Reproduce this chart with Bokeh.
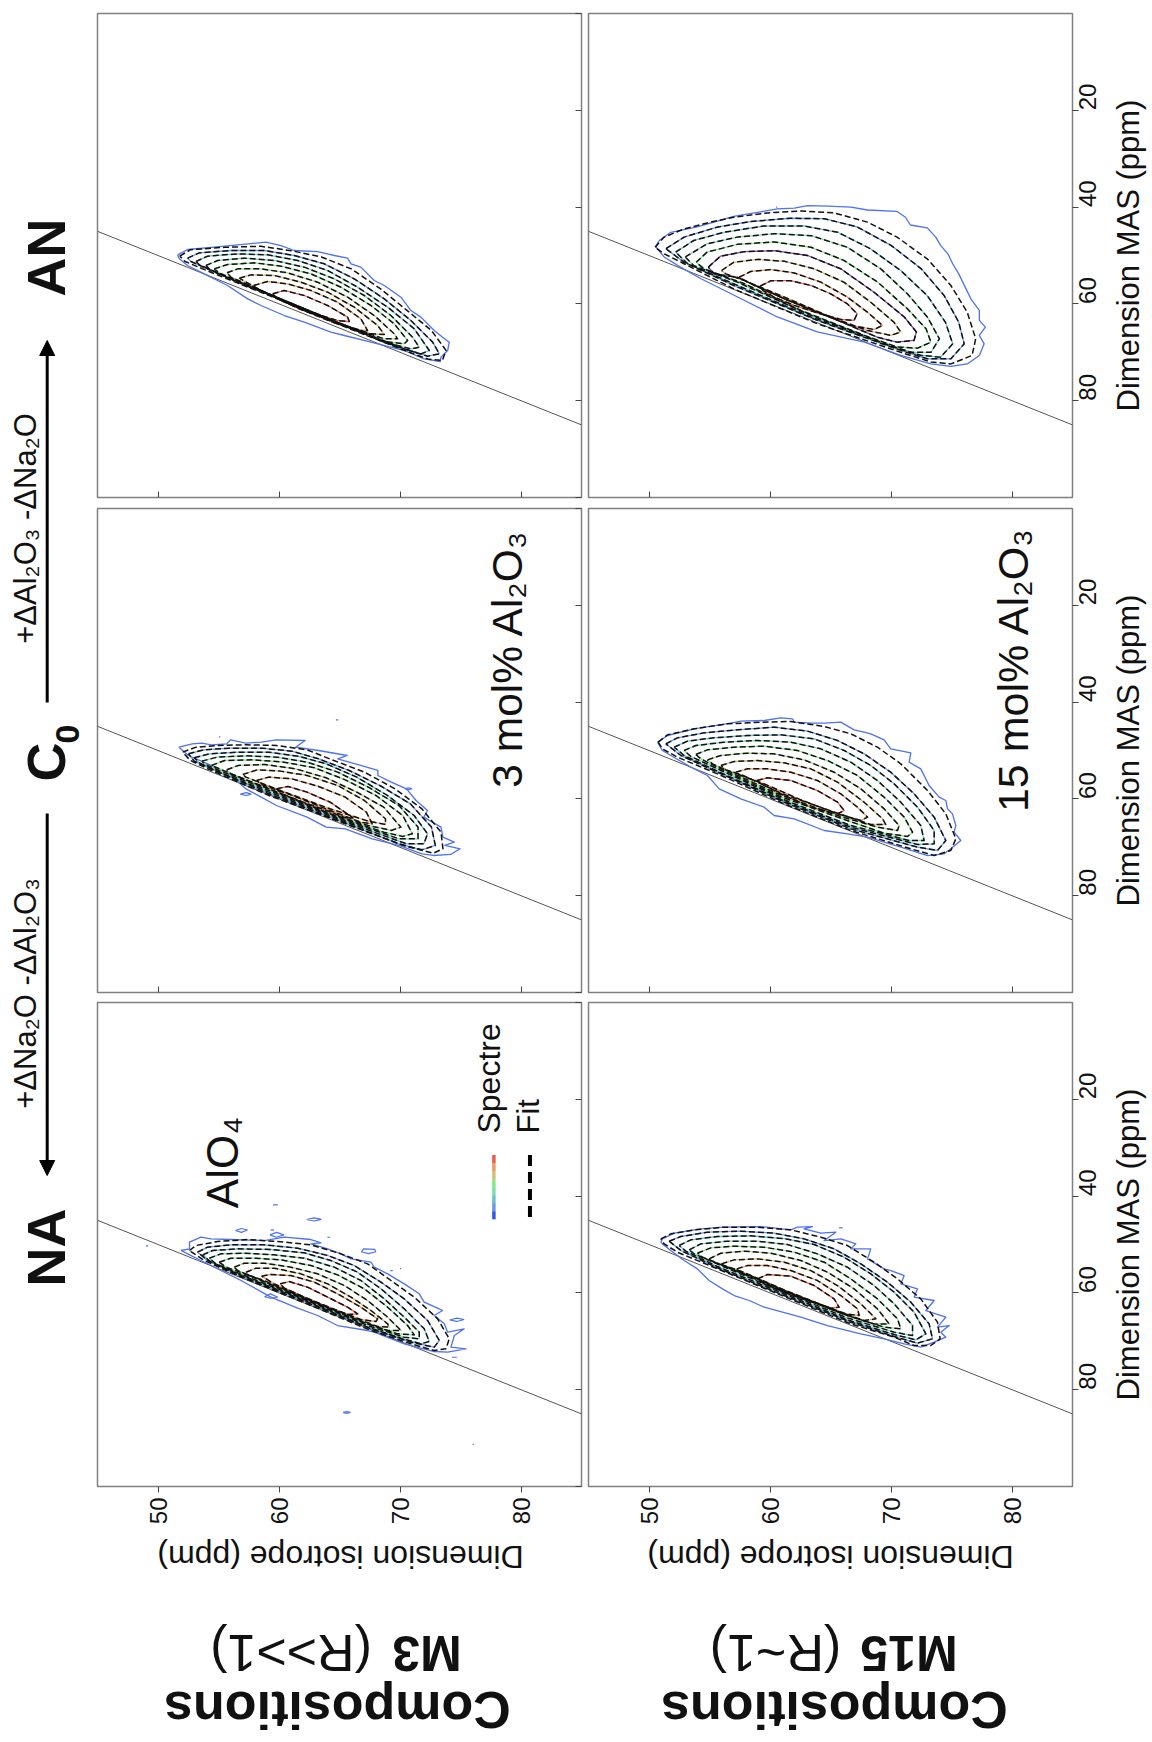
import math
from bokeh.embed import file_html
from bokeh.resources import INLINE
from bokeh.layouts import column, row
from bokeh.models import Arrow, FixedTicker, Label, LinearAxis, NormalHead, Range1d
from bokeh.plotting import figure

# ---- axes -----------------------------------------------------------------
ISO_RANGE = (45, 85)
MAS_RANGE = (100, 0)
ISO_TICKS = [50, 60, 70, 80]
MAS_TICKS = [20, 40, 60, 80]
MAS_INNER_TICKS = [0, 20, 40, 60, 80, 100]
ISO_LABEL = "Dimension isotrope (ppm)"
MAS_LABEL = "Dimension MAS (ppm)"
DIAGONAL = [45, 85]

# ---- contours, (isotropic ppm, MAS ppm), outermost level first --------------
M3_AN_FIT = [
    [(51.8,50.1),(52.7,48.8),(55.5,48.3),(58.5,48.1),(61.0,49.0),(63.5,50.3),(66.0,52.8),(68.4,56.9),(70.6,61.4),(72.6,65.5),(73.8,69.6),(73.5,71.7),(72.3,71.4),(70.35,69.6),(64.8,64.1),(59.3,58.4),(54.9,54.0),(52.2,51.2)],
    [(52.45,50.55),(53.41,49.45),(56.03,48.97),(58.78,48.97),(61.26,50.0),(63.74,51.72),(66.22,54.82),(68.7,58.96),(70.9,63.43),(72.7,67.9),(73.25,70.32),(72.28,70.8),(70.35,69.3),(64.84,63.78),(59.33,58.13),(55.2,54.0),(52.72,51.24)],
    [(53.14,51.24),(54.1,50.14),(56.58,49.66),(59.06,49.86),(61.54,51.03),(64.02,53.1),(66.5,56.55),(68.98,60.68),(71.18,65.15),(72.42,69.63),(71.73,70.32),(69.8,68.94),(64.84,63.9),(60.16,58.96),(56.03,54.82),(53.41,51.93)],
    [(53.96,52.07),(54.93,51.03),(57.13,50.55),(59.61,51.03),(62.09,52.41),(64.57,54.82),(67.05,58.27),(69.25,62.4),(71.04,66.88),(71.59,68.94),(70.9,69.3),(68.7,67.9),(64.84,63.9),(60.71,59.64),(56.58,55.51),(54.24,52.76)],
    [(54.65,52.76),(55.75,51.86),(57.96,51.52),(60.16,52.2),(62.64,53.79),(65.12,56.55),(67.6,60.33),(69.53,64.12),(70.63,67.56),(70.35,68.25),(68.7,67.77),(65.4,64.46),(61.54,60.47),(57.41,56.2),(55.06,53.58)],
    [(55.7,53.58),(56.58,52.76),(58.51,52.76),(60.71,53.58),(63.19,55.51),(65.67,58.61),(67.87,62.4),(69.53,66.19),(69.8,67.22),(68.7,67.22),(65.4,64.46),(61.54,60.68),(57.96,56.55),(56.03,54.48)],
    [(56.72,54.69),(57.68,54.0),(59.61,54.13),(61.81,55.51),(64.02,57.58),(66.22,60.68),(68.15,64.46),(68.7,66.32),(67.6,66.19),(64.84,63.9),(61.54,60.68),(58.51,57.23)],
    [(57.9,56.2),(59.06,55.37),(60.71,55.86),(62.64,57.23),(64.84,59.64),(66.77,63.09),(67.32,65.5),(66.5,65.5),(64.29,63.64),(61.54,60.88),(59.06,57.92),(58.1,56.75)],
    [(59.47,57.92),(60.44,57.23),(62.09,58.27),(64.02,60.33),(65.67,62.74),(65.81,63.64),(64.84,63.43),(62.09,61.37),(59.89,58.96)],
]
M3_AN_OUTER = [(51.62,49.86),(52.45,48.76),(54.65,48.28),(56.58,47.8),(58.92,47.25),(60.16,47.94),(61.26,48.97),(63.19,49.18),(64.57,50.0),(65.67,50.55),(65.95,51.72),(66.77,52.41),(67.87,55.17),(68.7,56.2),(70.08,58.61),(70.9,61.37),(71.73,62.74),(72.83,65.5),(73.52,66.88),(74.07,67.91),(73.94,69.63),(73.38,71.01),(73.33,71.9),(72.0,71.35),(70.35,69.63),(67.6,67.91),(65.4,66.53),(64.29,65.84),(62.09,63.78),(60.44,62.4),(58.51,60.33),(57.41,58.96),(55.75,56.2),(53.82,53.79),(52.45,52.07),(51.76,50.69)]

M15_AN_FIT = [
    [(50.5,48.3),(51.25,46.2),(52.9,44.5),(55.1,43.1),(57.0,42.1),(59.8,41.2),(62.55,40.8),(65.3,41.2),(68.05,43.1),(70.5,46.2),(73.0,50.7),(74.95,56.2),(76.3,61.7),(77.0,67.2),(76.7,70.65),(74.95,72.4),(73.3,72.0),(70.8,70.0),(63.9,64.1),(57.0,56.9),(52.9,51.7),(51.25,49.65)],
    [(51.4,48.6),(52.9,46.2),(55.7,44.1),(58.4,43.0),(61.7,42.3),(64.5,42.4),(67.2,44.1),(70.0,47.9),(72.5,52.75),(74.4,58.3),(75.6,63.8),(76.05,68.25),(74.95,71.35),(73.0,71.35),(70.8,69.6),(63.9,63.4),(57.0,56.2),(52.9,51.4)],
    [(52.2,49.3),(53.7,46.9),(56.2,45.2),(59.5,43.9),(62.8,43.9),(65.6,45.2),(68.3,48.6),(70.8,53.1),(73.0,58.3),(74.5,63.8),(75.1,68.25),(74.1,71.0),(72.5,70.65),(70.25,68.9),(63.4,62.7),(57.0,55.85),(53.2,51.7)],
    [(53.0,50.3),(54.8,47.6),(57.3,46.2),(60.35,45.5),(63.4,45.9),(66.4,48.3),(69.15,52.75),(71.35,57.9),(73.0,62.7),(74.0,67.2),(73.3,70.0),(71.6,70.0),(69.45,68.25),(63.1,62.05),(57.3,55.5),(53.7,52.1)],
    [(53.9,51.4),(54.8,49.3),(57.3,47.7),(60.35,47.2),(63.4,48.3),(66.1,51.0),(68.9,55.5),(71.35,61.0),(72.9,65.15),(73.3,67.9),(72.2,69.15),(70.5,68.9),(67.8,66.5),(62.55,61.35),(57.9,55.85),(54.55,52.75)],
    [(54.9,52.4),(55.9,50.15),(57.9,49.2),(60.35,49.0),(63.1,50.0),(65.85,52.75),(68.6,57.6),(71.1,62.7),(72.1,65.8),(71.9,67.55),(70.5,67.9),(68.9,66.9),(65.6,63.4),(61.2,58.95),(57.3,54.5),(55.4,53.8)],
    [(56.0,53.1),(57.0,51.4),(59.0,50.8),(61.2,51.2),(63.65,52.75),(66.1,55.5),(68.3,59.6),(70.25,63.8),(70.8,65.8),(70.0,66.5),(68.05,65.5),(65.0,62.7),(61.2,58.6),(57.9,55.2),(56.35,53.8)],
    [(57.45,54.5),(58.4,53.3),(60.1,52.9),(62.0,53.6),(64.2,55.5),(66.4,58.6),(68.05,61.7),(69.3,64.45),(68.6,65.3),(66.7,64.45),(63.9,61.7),(61.2,58.95),(58.7,56.2)],
    [(59.2,56.3),(60.1,55.2),(61.7,55.2),(63.4,56.2),(65.0,57.9),(66.4,60.0),(67.2,62.05),(66.95,63.4),(65.85,63.2),(63.9,61.85),(62.0,60.3),(60.35,58.6),(59.4,57.2)],
]
M15_AN_OUTER = [(50.6,47.9),(50.85,46.9),(51.8,45.2),(54.0,44.1),(57.0,41.9),(59.2,41.0),(60.6,40.35),(62.0,40.2),(63.1,39.7),(64.75,39.8),(66.7,40.0),(68.05,40.6),(70.5,40.9),(71.2,42.1),(71.6,43.7),(73.0,44.3),(73.7,46.2),(74.1,47.9),(74.7,49.65),(75.1,51.7),(75.6,53.8),(76.2,56.9),(76.6,58.95),(77.3,61.35),(77.3,63.4),(77.8,64.8),(77.3,66.5),(77.7,68.25),(77.3,70.65),(76.3,72.4),(74.95,72.9),(73.3,72.4),(70.8,70.65),(67.8,67.9),(63.9,65.8),(60.6,62.7),(57.9,59.3),(54.3,54.8),(52.6,52.4),(51.25,50.3),(50.6,48.3)]

M3_C0_FIT = [
    [(52.04,50.34),(53.15,49.31),(55.05,48.96),(57.26,48.82),(59.79,48.96),(62.32,49.86),(64.53,52.06),(67.06,54.47),(69.59,57.92),(71.81,62.05),(73.39,66.87),(73.55,70.31),(72.76,71.21),(70.54,69.83),(65.48,65.15),(59.16,59.29),(54.1,53.78),(52.67,52.06)],
    [(52.52,50.68),(53.78,49.86),(56.0,49.51),(58.53,49.51),(61.06,50.13),(63.27,51.72),(65.8,54.13),(68.33,57.23),(70.86,61.02),(72.6,65.83),(72.92,69.62),(71.81,70.52),(69.91,69.28),(65.48,65.01),(59.16,58.95),(54.41,53.78),(52.99,52.2)],
    [(52.99,51.51),(54.26,50.68),(56.63,50.34),(59.16,50.34),(61.69,51.24),(63.9,52.75),(66.43,55.5),(68.96,59.29),(71.17,63.43),(72.28,67.21),(71.97,69.28),(70.54,69.28),(65.17,64.46),(59.16,58.6),(54.73,54.13),(53.46,52.61)],
    [(53.62,52.2),(54.89,51.37),(57.26,51.1),(59.79,51.37),(62.32,52.41),(64.85,54.47),(67.38,57.57),(69.91,61.36),(71.49,65.83),(71.49,68.24),(69.91,68.24),(64.85,63.91),(59.16,58.26),(55.05,54.13),(53.94,52.89)],
    [(54.41,53.09),(55.52,52.06),(57.89,51.92),(60.42,52.41),(62.95,53.58),(65.48,56.06),(68.01,59.29),(70.23,63.43),(71.02,67.21),(70.23,67.76),(68.65,66.87),(64.53,63.43),(59.16,57.92),(55.52,54.26)],
    [(55.68,53.99),(56.63,53.09),(58.84,52.89),(61.37,53.78),(63.9,55.64),(66.43,58.6),(68.65,61.7),(70.07,65.83),(69.28,66.52),(67.38,65.49),(64.22,63.08),(59.16,57.92),(56.0,54.82)],
    [(57.01,54.95),(58.21,53.99),(60.11,54.26),(62.32,55.16),(64.85,57.23),(67.06,60.33),(68.8,64.11),(68.8,65.28),(67.38,64.6),(64.22,62.05),(60.11,58.26),(57.26,55.5)],
    [(58.15,56.19),(59.16,55.5),(61.06,55.85),(63.27,57.43),(65.48,59.64),(67.22,62.74),(67.7,65.15),(66.75,64.8),(64.22,62.39),(60.74,58.95),(58.53,57.02)],
    [(59.79,57.92),(60.74,57.43),(62.32,58.6),(64.22,60.67),(65.64,63.08),(66.12,63.91),(65.48,63.91),(63.9,62.39),(62.0,60.67),(60.26,58.95)],
]
M3_C0_OUTER = [(51.73,49.31),(52.83,48.62),(53.62,48.48),(54.41,48.82),(55.68,48.62),(56.0,47.79),(57.26,48.48),(58.53,48.27),(59.79,47.79),(62.16,47.93),(61.37,49.31),(63.27,50.0),(65.64,51.03),(64.85,51.72),(66.75,53.09),(68.17,54.13),(68.17,55.16),(69.28,56.54),(70.54,57.92),(71.33,60.33),(72.28,62.39),(71.97,63.77),(73.39,65.83),(73.55,67.9),(74.49,68.93),(73.7,69.62),(74.97,70.31),(74.18,71.48),(72.76,71.69),(71.81,71.34),(69.91,69.62),(67.7,68.24),(65.48,66.18),(63.9,65.83),(62.32,63.77),(59.79,61.36),(58.53,59.64),(57.26,57.92),(56.31,55.85),(55.68,54.47),(54.1,52.75),(52.52,51.03)]
M3_C0_ISLANDS = [
    [(70.4,57.9),(70.7,57.7),(71.0,57.9),(70.7,58.1),(70.4,57.9)],
    [(56.8,59.0),(57.3,58.7),(57.7,59.0),(57.3,59.3),(56.8,59.0)],
    [(64.7,43.66),(64.9,43.66)],
    [(55.05,47.2),(55.15,47.2)],
]

M15_C0_FIT = [
    [(50.76,48.28),(51.53,46.76),(53.73,45.52),(56.49,44.49),(59.24,44.15),(61.72,44.01),(64.48,45.04),(66.68,46.56),(68.88,49.31),(70.81,52.76),(73.02,58.27),(74.53,63.09),(75.36,68.25),(74.94,70.66),(73.57,71.7),(71.64,70.32),(66.68,66.53),(61.17,61.02),(55.66,54.82),(52.35,51.38),(51.11,49.66)],
    [(51.39,48.62),(52.35,47.38),(54.56,46.35),(57.31,45.73),(60.34,45.18),(63.1,46.0),(65.58,47.93),(67.78,50.69),(69.98,54.48),(71.91,58.95),(73.57,63.77),(74.53,68.6),(73.84,70.66),(72.19,69.97),(66.68,66.18),(61.17,60.68),(55.66,54.48),(52.63,51.03)],
    [(52.08,49.31),(53.18,48.07),(55.38,47.38),(58.14,46.9),(60.89,46.76),(63.65,47.59),(66.13,50.0),(68.33,53.1),(70.26,56.89),(72.19,61.71),(73.57,66.53),(73.57,69.28),(72.19,69.42),(66.68,65.84),(61.17,60.47),(55.66,54.27),(52.9,51.03)],
    [(52.9,50.0),(53.87,48.97),(56.21,48.28),(58.97,47.93),(61.72,48.28),(64.2,49.66),(66.68,52.41),(68.88,56.2),(70.81,60.67),(72.46,65.5),(72.74,68.6),(71.5,68.6),(66.68,65.5),(61.17,60.19),(55.66,53.79),(53.46,51.24)],
    [(53.87,50.83),(54.83,49.86),(57.04,49.31),(59.52,49.1),(62.27,50.0),(64.75,52.07),(67.23,55.17),(69.43,59.64),(71.09,63.77),(71.78,66.87),(71.36,67.77),(69.43,67.08),(65.58,63.77),(60.62,59.3),(56.21,54.13),(54.28,51.72)],
    [(54.83,51.93),(55.94,51.03),(58.14,50.55),(60.34,50.69),(62.82,51.93),(65.3,54.48),(67.51,57.92),(69.43,62.05),(70.67,65.5),(70.54,66.53),(68.88,65.84),(65.58,63.43),(60.62,58.95),(56.76,54.48),(55.25,52.76)],
    [(55.94,53.1),(57.04,52.27),(58.97,52.07),(61.17,52.55),(63.37,53.79),(65.58,56.54),(67.78,60.68),(69.3,64.12),(69.57,65.29),(68.33,65.29),(65.58,62.95),(61.17,59.09),(57.59,54.96),(56.35,54.0)],
    [(57.17,54.48),(58.14,53.79),(59.79,53.79),(61.72,54.48),(63.92,56.2),(65.85,58.95),(67.23,61.71),(68.06,63.77),(67.51,64.46),(65.58,63.09),(62.55,60.19),(59.52,56.89),(57.59,55.17)],
    [(58.91,56.2),(59.79,55.65),(61.72,56.2),(63.92,58.27),(65.58,60.67),(66.13,62.4),(65.58,63.09),(63.37,61.71),(61.17,59.3),(59.52,57.23)],
]
M15_C0_OUTER = [(50.7,48.28),(51.53,46.9),(53.73,45.52),(56.76,44.35),(57.59,43.94),(59.52,43.8),(60.89,43.25),(61.86,43.46),(62.0,44.15),(63.37,44.35),(64.48,44.35),(65.85,44.15),(66.95,45.73),(67.78,46.21),(68.33,46.56),(69.43,47.8),(69.98,49.66),(71.64,50.48),(71.5,52.41),(72.46,53.79),(73.15,57.23),(73.98,59.64),(74.53,60.33),(74.67,62.05),(75.08,63.09),(75.36,65.5),(75.22,66.87),(75.77,68.6),(74.94,70.32),(74.39,71.35),(73.02,71.7),(70.81,69.97),(68.06,67.91),(66.4,67.22),(64.48,66.53),(62.0,64.12),(60.34,63.43),(59.52,61.71),(57.59,59.99),(55.8,57.92),(54.83,55.17),(53.46,53.44),(51.8,51.03),(51.11,50.0)]

M3_NA_FIT = [
    [(52.6,51.24),(53.14,50.21),(54.93,49.38),(57.41,48.97),(59.89,49.38),(62.64,50.07),(65.12,51.93),(67.32,54.0),(69.25,57.44),(71.18,60.88),(73.11,65.36),(74.07,69.49),(73.8,71.56),(72.83,71.9),(70.9,70.52),(67.6,67.77),(62.09,62.05),(56.58,56.41),(53.82,53.31)],
    [(53.27,51.59),(54.1,50.55),(56.03,50.07),(58.78,50.07),(61.54,50.76),(64.02,52.27),(66.22,54.34),(68.43,57.78),(70.35,61.23),(72.28,65.7),(73.25,69.84),(72.83,71.21),(70.9,70.18),(67.6,67.42),(62.09,61.78),(56.58,56.27),(54.1,53.31)],
    [(53.69,52.14),(54.51,51.24),(56.58,50.9),(59.33,51.03),(62.09,51.72),(64.29,53.31),(66.5,55.72),(68.43,59.16),(70.35,63.29),(72.0,67.42),(72.42,70.04),(71.73,70.52),(70.08,69.35),(67.32,67.08),(62.09,61.57),(56.58,56.06),(54.38,53.65)],
    [(54.24,52.83),(55.2,51.93),(57.13,51.79),(59.61,52.14),(62.09,52.83),(64.57,54.68),(66.77,57.44),(68.7,61.23),(70.35,65.01),(71.59,68.11),(71.59,69.49),(70.35,69.15),(67.32,66.74),(62.09,61.37),(57.13,56.41),(54.79,54.0)],
    [(55.06,53.65),(56.03,52.83),(57.96,52.83),(60.16,53.17),(62.64,54.34),(64.84,56.27),(67.05,59.16),(68.98,62.95),(70.63,66.74),(71.18,68.67),(69.8,68.46),(67.32,66.39),(62.09,61.23),(57.68,56.54),(55.62,54.68)],
    [(56.3,54.68),(57.13,53.86),(58.78,53.86),(60.99,54.68),(63.19,56.06),(65.4,58.47),(67.32,61.57),(68.98,65.01),(70.08,67.77),(68.98,67.77),(67.05,66.19),(62.09,61.09),(58.23,57.09),(56.58,55.37)],
    [(57.27,55.72),(58.1,54.89),(59.61,54.89),(61.81,56.06),(64.02,58.13),(65.95,60.88),(67.6,63.64),(68.98,66.39),(69.11,67.08),(68.15,66.94),(66.5,65.36),(62.09,61.09),(58.78,57.44),(57.54,56.41)],
    [(58.56,56.54),(59.33,56.2),(60.99,56.41),(62.92,57.78),(64.84,60.19),(66.77,62.95),(68.15,65.36),(68.01,65.91),(66.77,65.5),(64.84,63.64),(62.09,60.88),(59.61,58.13)],
    [(60.1,58.13),(60.85,57.65),(62.36,58.82),(64.02,60.88),(65.67,62.95),(66.5,64.33),(65.67,64.46),(64.02,62.95),(62.09,60.88),(60.44,59.02)],
]
M3_NA_OUTER = [(51.9,51.24),(52.6,50.9),(52.6,49.52),(53.55,48.49),(54.38,48.83),(56.03,48.97),(58.78,49.18),(60.44,48.49),(62.64,48.97),(63.47,49.66),(62.64,49.86),(64.02,50.9),(65.12,51.93),(65.95,52.96),(67.6,53.65),(67.87,54.68),(68.98,56.06),(70.35,58.13),(71.59,60.19),(72.0,61.92),(73.11,63.15),(73.52,63.64),(72.83,64.67),(73.66,66.39),(73.94,68.11),(75.31,67.42),(74.49,68.8),(74.21,71.21),(75.45,71.56),(73.94,72.25),(72.83,72.11),(70.35,70.52),(67.87,68.11),(67.32,67.77),(64.84,66.74),(63.19,64.67),(61.54,63.15),(59.33,60.88),(56.86,57.44),(55.2,55.37),(53.55,53.31),(52.45,51.93)]
M3_NA_ISLANDS = [
    [(62.3,44.84),(62.9,44.5),(63.5,44.8),(62.9,45.15),(62.3,44.84)],
    [(56.4,47.1),(56.9,46.7),(57.4,47.0),(56.9,47.5),(56.4,47.1)],
    [(59.25,48.0),(59.8,47.5),(60.4,48.0),(59.8,48.5),(59.25,48.0)],
    [(66.8,51.5),(67.0,50.9),(67.9,51.0),(68.0,51.5),(67.4,51.9),(66.8,51.5)],
    [(74.1,65.6),(74.7,65.2),(75.3,65.5),(74.7,65.9),(74.1,65.6)],
    [(58.8,60.8),(59.3,60.2),(59.9,60.9),(59.3,61.1),(58.8,60.8)],
    [(59.3,47.0),(59.6,47.0)],
    [(69.2,55.4),(69.4,55.4)],
    [(70.0,55.0),(70.1,55.0)],
    [(74.3,73.3),(74.7,73.3)],
    [(64.0,48.5),(64.2,48.5)],
    [(49.0,50.3),(49.2,50.3)],
    [(65.3,84.7),(65.6,84.5),(65.9,84.7),(65.6,84.9),(65.3,84.7)],
    [(59.5,41.8),(59.9,41.8)],
    [(76.0,91.3),(76.1,91.3)],
]

M15_NA_FIT = [
    [(50.98,48.83),(51.8,47.8),(53.73,46.97),(56.21,46.42),(58.97,46.42),(61.72,46.97),(64.2,48.49),(66.4,50.21),(68.6,53.65),(70.54,57.1),(72.46,61.23),(73.84,66.05),(74.06,69.49),(73.29,70.87),(71.91,70.87),(70.26,69.15),(66.68,66.4),(61.17,60.75),(55.66,55.03),(52.35,51.59),(51.25,49.87)],
    [(51.67,49.32),(52.63,48.35),(54.83,47.46),(57.59,47.25),(60.34,47.66),(62.82,48.83),(65.3,50.9),(67.51,54.0),(69.71,57.79),(71.64,61.92),(73.15,66.4),(73.43,69.49),(72.19,70.39),(70.26,69.01),(66.68,66.05),(61.17,60.54),(55.66,54.83),(52.63,51.24)],
    [(52.49,50.21),(53.46,49.04),(55.66,48.35),(58.41,48.21),(61.17,48.77),(63.65,50.0),(66.13,52.62),(68.33,56.07),(70.26,59.85),(71.91,63.98),(72.88,68.46),(72.05,69.7),(70.26,68.6),(66.4,65.57),(61.17,60.2),(55.66,54.55),(53.04,51.38)],
    [(53.32,51.11),(54.28,49.87),(56.49,49.32),(58.97,49.32),(61.44,50.0),(63.92,51.93),(66.4,54.69),(68.6,58.48),(70.26,62.26),(71.78,66.74),(71.78,68.81),(70.26,68.12),(66.4,65.16),(61.17,59.92),(55.94,54.34),(53.73,51.93)],
    [(54.0,51.8),(55.11,50.69),(57.04,50.35),(59.52,50.56),(62.0,51.59),(64.48,53.65),(66.68,57.1),(68.88,61.23),(70.54,65.36),(70.81,67.43),(69.43,67.08),(66.4,64.67),(61.17,59.65),(56.49,54.69),(54.42,52.62)],
    [(54.97,52.97),(55.94,51.8),(57.86,51.38),(60.07,51.8),(62.55,53.31),(64.75,55.72),(66.95,59.16),(68.88,63.3),(69.85,66.4),(68.6,66.4),(66.13,64.47),(61.17,59.51),(57.04,55.03),(55.38,53.65)],
    [(55.99,54.0),(57.04,53.17),(58.97,52.97),(61.17,53.65),(63.37,55.38),(65.58,58.48),(67.51,62.26),(68.75,65.36),(67.78,65.71),(65.58,63.78),(61.17,59.37),(57.59,55.51),(56.35,54.69)],
    [(57.26,55.03),(58.14,54.34),(59.79,54.34),(61.72,55.38),(63.92,57.44),(65.85,60.54),(67.23,63.3),(67.37,64.67),(66.27,64.33),(63.92,62.13),(61.17,59.51),(58.69,56.75),(57.45,55.72)],
    [(58.97,57.1),(59.79,56.2),(61.72,56.55),(63.65,58.48),(65.3,61.23),(65.71,62.95),(65.03,63.16),(63.1,61.57),(61.17,59.85),(59.52,58.13)],
]
M15_NA_OUTER = [(50.98,49.52),(51.11,48.83),(52.08,47.66),(54.28,46.77),(56.21,46.42),(59.24,46.29),(61.72,46.97),(62.27,46.42),(63.51,46.29),(62.82,46.77),(64.2,47.66),(65.44,47.46),(64.48,49.18),(65.85,48.83),(66.68,49.52),(67.09,49.87),(66.68,50.9),(68.33,50.9),(68.06,52.97),(69.43,55.03),(69.98,55.38),(71.09,56.41),(70.81,58.13),(72.19,59.16),(71.91,60.89),(73.57,61.57),(72.88,63.64),(74.53,65.02),(73.84,67.08),(74.81,66.74),(74.12,68.12),(74.53,69.15),(73.57,70.18),(72.46,71.22),(71.09,70.53),(69.43,69.49),(67.51,68.46),(64.75,66.74),(62.55,65.02),(59.52,62.95),(58.28,61.57),(57.04,60.54),(56.07,59.16),(54.97,57.44),(54.0,55.03),(52.9,53.31),(51.8,51.24),(51.11,49.87)]
M15_NA_ISLANDS = [[(65.7,46.55),(66.0,46.55)]]
M15_AN_ISLANDS = [[(60.5,40.0),(60.6,40.0)]]

# ---- level colours, outermost first ----------------------------------------
LEVEL_COLORS = ["#4f72ee", "#6a98e6", "#6cc0c8", "#7edca8", "#84ea88", "#a8d890", "#d8bc7c", "#eb9c6c", "#ec5f4c"]
PURPLE = "#7a4fa8"
LEGEND_GRADIENT = ["#ec5f4c", "#eb9c6c", "#d8bc7c", "#84ea88", "#7edca8", "#6cc0c8", "#6a98e6", "#3355ee"]

FONT = "Liberation Sans"
FRAME = 484
GREY = "#808080"
BOTTOM_Y = 1526          # page y where the panel rows stop and the foot strip starts
RIGHT_X = 1112           # page x where the panels stop and the right strip starts


def xy(points):
    return [p[0] for p in points], [p[1] for p in points]


def panel(fit, outer, islands, left, right, top, bottom, show_iso, show_mas, colors=LEVEL_COLORS):
    p = figure(frame_width=FRAME, frame_height=FRAME,
               x_range=Range1d(*ISO_RANGE), y_range=Range1d(*MAS_RANGE),
               x_axis_location=None, y_axis_location=None,
               min_border_left=left, min_border_right=right, min_border_top=top, min_border_bottom=bottom,
               output_backend="svg", toolbar_location=None, outline_line_color=GREY, outline_line_width=1.5)
    p.grid.visible = False

    below = LinearAxis(ticker=FixedTicker(ticks=ISO_TICKS), axis_line_color=None,
                       major_tick_line_color="#444444", minor_tick_line_color=None)
    side_ticks = MAS_TICKS if show_mas else MAS_INNER_TICKS
    side = LinearAxis(ticker=FixedTicker(ticks=side_ticks), axis_line_color=None,
                      major_tick_line_color="#444444", minor_tick_line_color=None)
    for ax, shown, ticks, standoff in ((below, show_iso, ISO_TICKS, 5), (side, show_mas, side_ticks, 9)):
        if shown:
            ax.major_tick_out, ax.major_tick_in = 6, 0
            ax.major_label_text_font_size = "24px"
            ax.major_label_text_font = FONT
            ax.major_label_text_color = "#111111"
            ax.major_label_orientation = math.pi / 2
            ax.major_label_standoff = standoff
        else:
            ax.major_tick_out, ax.major_tick_in = 0, 6
            ax.major_label_overrides = {t: "" for t in ticks}
            ax.major_label_text_font_size = "1px"
            ax.major_label_standoff = 0
    p.add_layout(below, "below")
    p.add_layout(side, "right")

    p.line(DIAGONAL, DIAGONAL, line_color="#555555", line_width=1)

    levels = [outer] + fit[1:]
    for pts, col in zip(levels, colors):
        x, y = xy(pts + pts[:1])
        p.line(x, y, line_color=col, line_width=1.3, line_join="round")
    for pts in islands:
        x, y = xy(pts)
        p.line(x, y, line_color=colors[0], line_width=1.2)
    for pts in fit:
        x, y = xy(pts + pts[:1])
        p.line(x, y, line_color="#111111", line_width=1.5, line_dash="6 3", line_join="round")
    return p


L = dict(left=1, right=3)
R = dict(left=4, right=RIGHT_X - 1072)
ROW1 = dict(top=13, bottom=5)
ROW2 = dict(top=6, bottom=5)
ROW3 = dict(top=5, bottom=BOTTOM_Y - 1486)
AN_COLORS = LEVEL_COLORS[:5] + [PURPLE] + LEVEL_COLORS[6:]

m3_an = panel(M3_AN_FIT, M3_AN_OUTER, [], show_iso=False, show_mas=False, **L, **ROW1)
m15_an = panel(M15_AN_FIT, M15_AN_OUTER, M15_AN_ISLANDS, show_iso=False, show_mas=True, colors=AN_COLORS, **R, **ROW1)
m3_c0 = panel(M3_C0_FIT, M3_C0_OUTER, M3_C0_ISLANDS, show_iso=False, show_mas=False, **L, **ROW2)
m15_c0 = panel(M15_C0_FIT, M15_C0_OUTER, [], show_iso=False, show_mas=True, **R, **ROW2)
m3_na = panel(M3_NA_FIT, M3_NA_OUTER, M3_NA_ISLANDS, show_iso=True, show_mas=False, **L, **ROW3)
m15_na = panel(M15_NA_FIT, M15_NA_OUTER, M15_NA_ISLANDS, show_iso=True, show_mas=True, **R, **ROW3)


def note(p, text, x, y, size, angle=math.pi / 2, align="center", style="normal"):
    p.add_layout(Label(x=x, y=y, text=text, angle=angle, text_font=FONT, text_font_size=f"{size}px",
                       text_font_style=style, text_align=align, text_baseline="alphabetic", text_color="#111111"))


note(m3_c0, "3 mol% Al\u2082O\u2083", 78.87, 31.0, 42.5)
note(m15_c0, "15 mol% Al\u2082O\u2083", 80.07, 33.26, 43)
note(m3_na, "AlO\u2084", 55.37, 33.06, 44)
note(m3_na, "Spectre", 77.39, 27.07, 32, align="left")
note(m3_na, "Fit", 80.65, 27.07, 31, align="left")

# legend keys inside the first panel
LEGEND_MAS = [31.5, 33.16, 34.82, 36.48, 38.14, 39.8, 41.46, 43.12, 44.8]
for i, col in enumerate(LEGEND_GRADIENT):
    m3_na.line([77.76, 77.76], LEGEND_MAS[i:i + 2], line_color=col, line_width=3.5)
m3_na.line([80.74, 80.74], [LEGEND_MAS[0], LEGEND_MAS[-1]], line_color="#000000", line_width=4, line_dash="11 6")


def strip_figure(x0, x1, y0, y1):
    """A borderless figure whose data units are page pixels, for the texts around the panels."""
    s = figure(width=x1 - x0, height=y1 - y0, x_range=Range1d(x0, x1), y_range=Range1d(y1, y0),
               x_axis_location=None, y_axis_location=None, min_border=0, outline_line_color=None,
               output_backend="svg", toolbar_location=None)
    s.grid.visible = False
    return s


# left strip
strip = strip_figure(0, 96, 0, BOTTOM_Y)
note(strip, "AN", 45, 257, 54, style="bold")
note(strip, "NA", 45, 1247, 54, style="bold")
note(strip, "C", 45, 761.6, 54, style="bold")
note(strip, "0", 66.8, 733.6, 34, style="bold")
note(strip, "+\u0394Al\u2082O\u2083 -\u0394Na\u2082O", 25.4, 528, 31)
note(strip, "+\u0394Na\u2082O -\u0394Al\u2082O\u2083", 25.4, 993, 31)
for y0, y1 in ((702, 340), (813, 1175)):
    strip.add_layout(Arrow(x_start=46.7, y_start=y0, x_end=46.7, y_end=y1, line_width=3, line_color="#000000",
                           end=NormalHead(size=15, fill_color="#000000", line_color="#000000")))

# right strip: MAS axis titles
side_strip = strip_figure(RIGHT_X, 1152, 0, BOTTOM_Y)
for yc in (255, 750, 1244):
    note(side_strip, MAS_LABEL, 1128, yc, 31)

# bottom strip: isotropic axis titles and composition names
foot = strip_figure(0, 1152, BOTTOM_Y, 1742)
note(foot, ISO_LABEL, 340, 1555, 32, angle=math.pi)
note(foot, ISO_LABEL, 830, 1555, 32, angle=math.pi)
note(foot, "Compositions", 337, 1708, 52, angle=math.pi, style="bold")
note(foot, "M3", 426.5, 1651, 50, angle=math.pi, style="bold")
note(foot, "(R>>1)", 290.5, 1651, 52, angle=math.pi)
note(foot, "Compositions", 834, 1708, 52, angle=math.pi, style="bold")
note(foot, "M15", 908.5, 1651, 50, angle=math.pi, style="bold")
note(foot, "(R~1)", 775, 1651, 52, angle=math.pi)

grid = column(row(m3_an, m15_an, spacing=0), row(m3_c0, m15_c0, spacing=0), row(m3_na, m15_na, spacing=0), spacing=0)
page = column(row(strip, grid, side_strip, spacing=0), foot, spacing=0)

open("out.html", "w").write(file_html(page, INLINE))
